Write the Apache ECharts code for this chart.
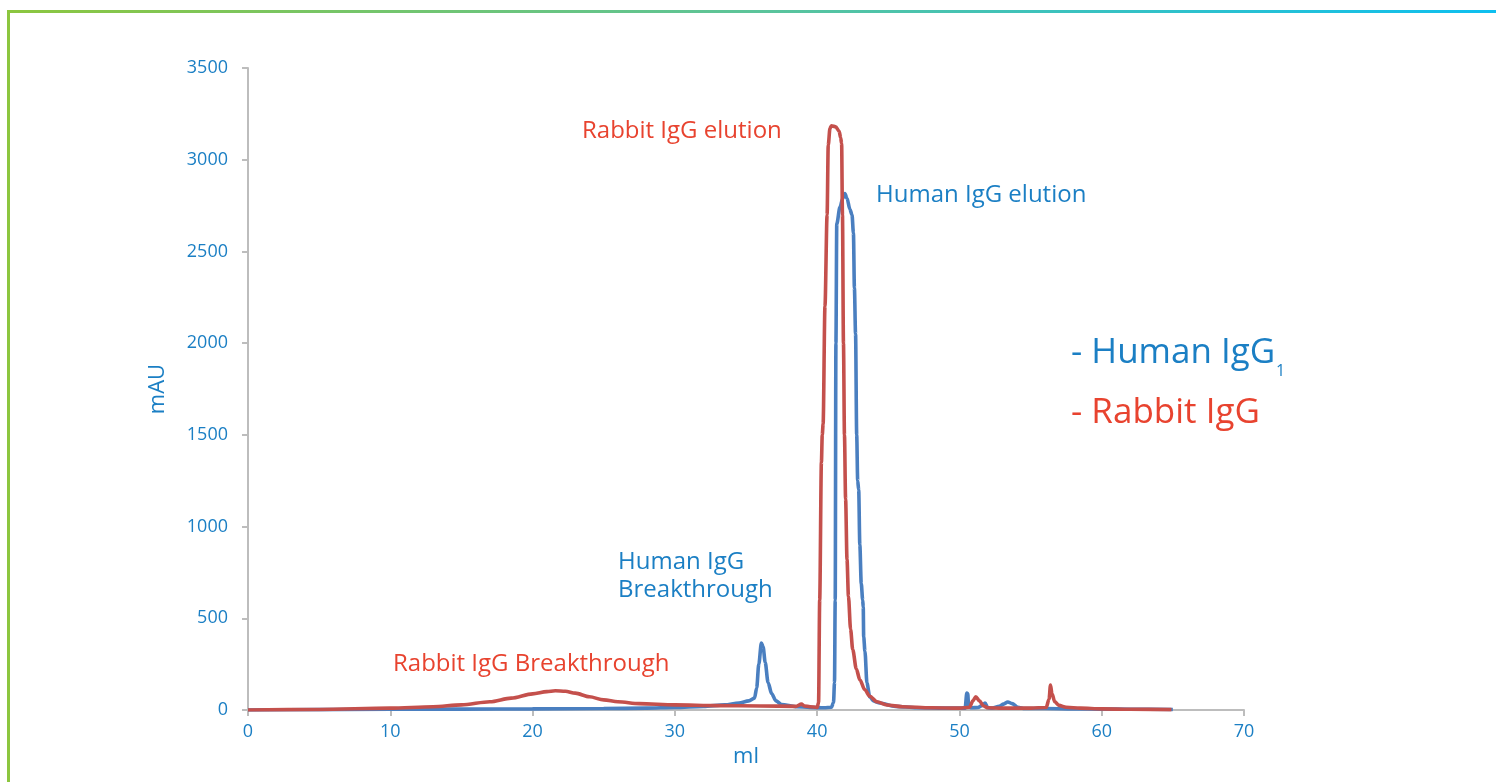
<!DOCTYPE html>
<html>
<head>
<meta charset="utf-8">
<script src="https://cdn.jsdelivr.net/npm/echarts@6/dist/echarts.min.js"></script>
<style>
html,body{margin:0;padding:0;background:#fff;}
#chart{width:1496px;height:782px;}
</style>
</head>
<body>
<div id="chart"></div>
<script>
// ---- data (ml vs mAU) ----
const humanX = [0, 5, 10, 15, 20, 25, 28, 30, 32, 33.5, 34.5, 35.2, 35.6, 35.75, 35.9, 36.08, 36.2, 36.35, 36.55, 36.8, 37.1, 37.5, 38.5, 39.5, 40.5, 41.0, 41.15, 41.22, 41.27, 41.32, 41.38, 41.6, 41.8, 41.95, 42.1, 42.3, 42.45, 42.55, 42.62, 42.7, 42.78, 42.85, 42.92, 43.0, 43.1, 43.2, 43.24, 43.27, 43.36, 43.5, 43.7, 44.0, 44.4, 45.5, 47, 49, 50.4, 50.52, 50.58, 50.65, 50.8, 51.3, 51.6, 51.8, 52.0, 52.3, 52.8, 53.1, 53.4, 53.7, 54.1, 54.6, 56, 58, 60, 62, 65];
const humanY = [0, 2, 4, 5, 6, 8, 10, 14, 20, 28, 38, 50, 65, 120, 250, 365, 345, 260, 150, 90, 50, 30, 18, 14, 12, 15, 40, 150, 600, 2000, 2650, 2740, 2790, 2815, 2790, 2730, 2700, 2600, 2300, 2050, 1500, 1250, 1200, 900, 690, 600, 560, 400, 320, 147, 71, 48, 38, 20, 12, 10, 10, 93, 90, 20, 12, 14, 25, 38, 12, 10, 20, 32, 44, 35, 15, 8, 8, 6, 5, 4, 3];

const rabbitX = [0, 5, 10, 13, 15, 17, 18.5, 20, 21, 21.6, 22.3, 23, 24, 25, 26, 27.5, 30, 33, 36, 38.5, 38.9, 39.1, 39.5, 40.0, 40.1, 40.18, 40.3, 40.36, 40.42, 40.55, 40.7, 40.78, 40.9, 41.0, 41.3, 41.55, 41.65, 41.72, 41.78, 41.85, 41.92, 42.0, 42.1, 42.2, 42.35, 42.5, 42.75, 43.0, 43.35, 43.7, 44.2, 44.9, 46, 48, 50, 50.7, 50.95, 51.15, 51.4, 51.7, 52.0, 53, 55, 56.1, 56.3, 56.4, 56.5, 56.7, 57.0, 57.5, 58.5, 60, 62, 64.9];
const rabbitY = [0, 3, 10, 18, 28, 45, 65, 88, 100, 105, 102, 92, 72, 55, 45, 35, 28, 24, 22, 20, 32, 22, 18, 14, 40, 600, 1350, 1500, 1560, 2200, 2700, 3080, 3170, 3185, 3180, 3155, 3120, 3090, 2700, 2000, 1500, 1150, 820, 620, 440, 330, 225, 165, 110, 75, 45, 27, 18, 12, 10, 15, 50, 72, 50, 22, 12, 10, 10, 14, 60, 136, 90, 45, 25, 15, 10, 6, 4, 2];

const xTicks = { min: 0, max: 70, interval: 10 };
const yTicks = { min: 0, max: 3500, interval: 500 };

const xName = 'ml';
const yName = 'mAU';
const annotations = ['Rabbit IgG elution', 'Human IgG elution', 'Human IgG', 'Breakthrough', 'Rabbit IgG Breakthrough'];
const legendLabels = ['- Human IgG', '1', '- Rabbit IgG'];

// ---- build ----
const zip = (xs, ys) => xs.map((x, i) => [x, ys[i]]);
const FONT = '"Open Sans", sans-serif';
const BLUE_TXT = '#1b7fc4';
const RED_TXT = '#e8432f';
const BLUE_LN = '#4a7fc0';
const RED_LN = '#c4504c';

const chart = echarts.init(document.getElementById('chart'), null, { renderer: 'canvas' });

const option = {
  backgroundColor: '#ffffff',
  animation: false,
  grid: { left: 248, right: 252, top: 68, bottom: 72, containLabel: false },
  xAxis: {
    type: 'value',
    min: xTicks.min, max: xTicks.max, interval: xTicks.interval,
    name: xName, nameLocation: 'middle', nameGap: 26,
    nameTextStyle: { color: BLUE_TXT, fontSize: 22, fontFamily: FONT },
    axisLine: { show: true, lineStyle: { color: '#bdbdbd', width: 2 } },
    axisTick: { show: true, length: 6, lineStyle: { color: '#bdbdbd', width: 2 } },
    axisLabel: { color: BLUE_TXT, fontSize: 18, fontFamily: FONT, margin: 13, formatter: v => String(v) },
    splitLine: { show: false }
  },
  yAxis: {
    type: 'value',
    min: yTicks.min, max: yTicks.max, interval: yTicks.interval,
    name: yName, nameLocation: 'middle', nameGap: 79,
    nameTextStyle: { color: BLUE_TXT, fontSize: 22, fontFamily: FONT },
    axisLine: { show: true, lineStyle: { color: '#bdbdbd', width: 2 } },
    axisTick: { show: true, length: 6, lineStyle: { color: '#bdbdbd', width: 2 } },
    axisLabel: { color: BLUE_TXT, fontSize: 18, fontFamily: FONT, margin: 20, formatter: v => String(v) },
    splitLine: { show: false }
  },
  series: [
    {
      name: 'Human IgG1', type: 'line', data: zip(humanX, humanY),
      showSymbol: false, smooth: 0.3, smoothMonotone: 'x',
      lineStyle: { color: BLUE_LN, width: 3.6 }, z: 2
    },
    {
      name: 'Rabbit IgG', type: 'line', data: zip(rabbitX, rabbitY),
      showSymbol: false, smooth: 0.3, smoothMonotone: 'x',
      lineStyle: { color: RED_LN, width: 3.6 }, z: 3
    }
  ],
  graphic: [
    { type: 'rect', left: 7, top: 10, shape: { width: 3, height: 772 }, style: { fill: '#8cc63f' }, z: 10 },
    { type: 'rect', left: 7, top: 10, shape: { width: 1489, height: 3 },
      style: { fill: new echarts.graphic.LinearGradient(0, 0, 1, 0, [
        { offset: 0, color: '#8cc63f' }, { offset: 0.5, color: '#5cc49a' }, { offset: 1, color: '#0dbff0' }
      ]) }, z: 10 },
    { type: 'text', x: 582, y: 131, style: { text: annotations[0], font: '24px ' + FONT, fill: RED_TXT, align: 'left', verticalAlign: 'middle' }, z: 20 },
    { type: 'text', x: 876, y: 195, style: { text: annotations[1], font: '24px ' + FONT, fill: BLUE_TXT, align: 'left', verticalAlign: 'middle' }, z: 20 },
    { type: 'text', x: 618, y: 562, style: { text: annotations[2], font: '24px ' + FONT, fill: BLUE_TXT, align: 'left', verticalAlign: 'middle' }, z: 20 },
    { type: 'text', x: 618, y: 590, style: { text: annotations[3], font: '24px ' + FONT, fill: BLUE_TXT, align: 'left', verticalAlign: 'middle' }, z: 20 },
    { type: 'text', x: 393, y: 664, style: { text: annotations[4], font: '24px ' + FONT, fill: RED_TXT, align: 'left', verticalAlign: 'middle' }, z: 20 },
    { type: 'text', x: 1071, y: 353, style: { text: legendLabels[0], font: '35px ' + FONT, fill: BLUE_TXT, align: 'left', verticalAlign: 'middle' }, z: 20 },
    { type: 'text', x: 1276, y: 371, style: { text: legendLabels[1], font: '16px ' + FONT, fill: BLUE_TXT, align: 'left', verticalAlign: 'middle' }, z: 20 },
    { type: 'text', x: 1071, y: 413, style: { text: legendLabels[2], font: '35px ' + FONT, fill: RED_TXT, align: 'left', verticalAlign: 'middle' }, z: 20 }
  ]
};
chart.setOption(option);
</script>
</body>
</html>
